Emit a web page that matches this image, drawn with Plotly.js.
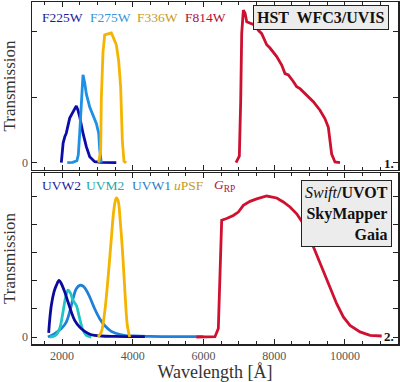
<!DOCTYPE html>
<html>
<head>
<meta charset="utf-8">
<script src="https://cdn.plot.ly/plotly-3.0.1.min.js"></script>
<style>html,body{margin:0;padding:0;background:#fff;}#chart{width:400px;height:382px;}</style>
</head>
<body>
<div id="chart"></div>
<script>
// ---- Panel 1: HST WFC3/UVIS ----
const f225wWl = [1979, 2030, 2080, 2120, 2216, 2310, 2403, 2450, 2499, 2592, 2686, 2782, 2923, 3100, 3300, 3534];
const f225wTr = [0.0, 0.03, 0.04, 0.045, 0.068, 0.078, 0.0866, 0.08, 0.070, 0.045, 0.0244, 0.009, 0.0015, 0.0005, 0.0002, 0.0];
const f275wWl = [2148, 2300, 2420, 2460, 2499, 2544, 2592, 2640, 2686, 2782, 2875, 2969, 3036, 3065, 3110];
const f275wTr = [0, 0.0005, 0.003, 0.012, 0.045, 0.098, 0.134, 0.122, 0.105, 0.085, 0.073, 0.060, 0.045, 0.020, 0];
const f336wWl = [3036, 3093, 3110, 3158, 3206, 3299, 3393, 3442, 3534, 3602, 3658, 3705, 3752, 3817];
const f336wTr = [0, 0.02, 0.098, 0.169, 0.195, 0.197, 0.198, 0.192, 0.18, 0.155, 0.114, 0.033, 0.002, 0];
const f814wWl = [6919, 7013, 7052, 7080, 7127, 7175, 7222, 7315, 7457, 7551, 7646, 7787, 7881, 8070, 8211, 8305, 8399, 8540, 8635, 8729, 8918, 9106, 9294, 9436, 9530, 9577, 9624, 9718, 9860];
const f814wTr = [0, 0.01, 0.095, 0.197, 0.233, 0.228, 0.215, 0.213, 0.210, 0.202, 0.197, 0.180, 0.175, 0.162, 0.149, 0.136, 0.134, 0.124, 0.116, 0.113, 0.103, 0.093, 0.080, 0.067, 0.054, 0.034, 0.013, 0.001, 0];

// ---- Panel 2: Swift/UVOT, SkyMapper, Gaia ----
const uvw2Wl = [1622, 1650, 1696, 1772, 1838, 1914, 1979, 2075, 2168, 2262, 2357, 2499, 2640, 2827, 3110, 3500, 4000, 4340];
const uvw2Tr = [0.015, 0.06, 0.112, 0.16, 0.183, 0.201, 0.189, 0.16, 0.124, 0.089, 0.059, 0.035, 0.02, 0.008, 0.0035, 0.002, 0.0015, 0.001];
const uvm2Wl = [1659, 1750, 1838, 1933, 2027, 2093, 2168, 2244, 2310, 2403, 2499, 2592, 2686, 2827];
const uvm2Tr = [0, 0.002, 0.008, 0.03, 0.089, 0.136, 0.166, 0.154, 0.13, 0.112, 0.065, 0.024, 0.006, 0];
const uvw1Wl = [1602, 1792, 1979, 2120, 2216, 2310, 2403, 2499, 2592, 2686, 2782, 2923, 3065, 3206, 3393, 3676, 4054, 4500, 5000, 5500, 6000];
const uvw1Tr = [0.0, 0.012, 0.03, 0.053, 0.089, 0.136, 0.171, 0.183, 0.181, 0.166, 0.142, 0.1, 0.065, 0.041, 0.02, 0.008, 0.0035, 0.002, 0.0015, 0.001, 0.001];
const upsfWl = [3016, 3110, 3206, 3299, 3393, 3469, 3534, 3582, 3647, 3723, 3789, 3846, 3912];
const upsfTr = [0, 0.018, 0.089, 0.207, 0.349, 0.455, 0.493, 0.485, 0.408, 0.278, 0.136, 0.041, 0];
const grpWl = [5800, 6100, 6325, 6419, 6467, 6495, 6514, 6655, 6843, 6985, 7127, 7315, 7504, 7787, 8070, 8257, 8446, 8635, 8823, 9012, 9200, 9389, 9577, 9766, 9954, 10143, 10426, 10709, 11039];
const grpTr = [0, 0, 0.001, 0.03, 0.23, 0.396, 0.414, 0.42, 0.431, 0.443, 0.467, 0.481, 0.49, 0.5, 0.493, 0.479, 0.461, 0.437, 0.402, 0.349, 0.29, 0.23, 0.171, 0.118, 0.071, 0.041, 0.018, 0.006, 0.0035];

const topNames = ['F225W', 'F275W', 'F336W', 'F814W'];
const botNames = ['UVW2', 'UVM2', 'UVW1', '<i>u</i>PSF', '<i>G</i><sub>RP</sub>'];
const xTickVals = [2000, 4000, 6000, 8000, 10000];
const xTickText = ['2000', '4000', '6000', '8000', '10000'];

const C = {
  f225: '#0c0ca8', f275: '#1e90e6', f336: '#f4b400', f814: '#cc1030',
  uvw2: '#0a0a9c', uvm2: '#22c4c4', uvw1: '#1f80d8', upsf: '#f4b400', grp: '#d01030'
};
const TXT = {
  f225: '#1c1c98', f275: '#3a94dc', f336: '#c89a1c', f814: '#b01038',
  uvw2: '#1c1c98', uvm2: '#22a8a8', uvw1: '#2c7cc8', upsf: '#c89a1c', grp: '#b01038'
};

function tr(x, y, color, xa, ya, shape) {
  return {x: x, y: y, type: 'scatter', mode: 'lines', xaxis: xa, yaxis: ya,
    line: {color: color, width: 2.8, shape: shape || 'linear'}, showlegend: false, hoverinfo: 'skip'};
}

const data = [
  tr(f225wWl, f225wTr, C.f225, 'x', 'y'),
  tr(f275wWl, f275wTr, C.f275, 'x', 'y'),
  tr(f336wWl, f336wTr, C.f336, 'x', 'y'),
  tr(f814wWl, f814wTr, C.f814, 'x', 'y'),
  tr(uvw1Wl, uvw1Tr, C.uvw1, 'x2', 'y2', 'spline'),
  tr(uvm2Wl, uvm2Tr, C.uvm2, 'x2', 'y2', 'spline'),
  tr(uvw2Wl, uvw2Tr, C.uvw2, 'x2', 'y2', 'spline'),
  tr(upsfWl, upsfTr, C.upsf, 'x2', 'y2', 'spline'),
  tr(grpWl, grpTr, C.grp, 'x2', 'y2')
];

const FONT = "'Liberation Serif', 'DejaVu Serif', serif";
const frame = {showline: true, linecolor: '#222', linewidth: 1.5, mirror: 'ticks',
  ticks: 'inside', ticklen: 5, tickcolor: '#222', tickwidth: 1, showgrid: false, zeroline: false};

const xCommon = Object.assign({}, frame, {range: [1150, 11500], tick0: 0, dtick: 2000,
  minor: {dtick: 500, tick0: 0, ticks: 'inside', ticklen: 3, tickcolor: '#222', showgrid: false}});

function yAxis(domain, range) {
  return Object.assign({}, frame, {domain: domain, range: range,
    tickvals: [0], ticktext: ['0'], tickfont: {family: FONT, size: 12, color: '#555'},
    minor: {dtick: 0.1, tick0: 0, ticks: 'inside', ticklen: 5, tickcolor: '#222', showgrid: false},
    title: {text: 'Transmission', font: {family: FONT, size: 17, color: '#333'}, standoff: 2}});
}

function ann(text, x, y, color, opts) {
  return Object.assign({text: text, x: x, y: y, xref: 'paper', yref: 'paper', showarrow: false,
    xanchor: 'left', yanchor: 'middle', font: {family: FONT, size: 13.5, color: color}}, opts || {});
}

const layout = {
  width: 400, height: 382,
  margin: {l: 32, r: 2, t: 2, b: 38},
  paper_bgcolor: '#fff', plot_bgcolor: '#fff',
  font: {family: FONT, color: '#444', size: 12},
  xaxis: Object.assign({}, xCommon, {anchor: 'y', domain: [0, 1], showticklabels: false}),
  xaxis2: Object.assign({}, xCommon, {anchor: 'y2', domain: [0, 1], matches: 'x',
    tickvals: xTickVals, ticktext: xTickText,
    tickfont: {family: FONT, size: 12, color: '#555'},
    title: {text: 'Wavelength [Å]', font: {family: FONT, size: 18, color: '#333'}, standoff: 3}}),
  yaxis: Object.assign(yAxis([0.5088, 1], [-0.0112, 0.2453]), {anchor: 'x'}),
  yaxis2: Object.assign(yAxis([0, 0.5], [-0.0248, 0.5816]), {anchor: 'x2'}),
  annotations: [
    ann(topNames[0], 0.0219, 0.956, TXT.f225),
    ann(topNames[1], 0.153, 0.956, TXT.f275),
    ann(topNames[2], 0.281, 0.956, TXT.f336),
    ann(topNames[3], 0.4126, 0.956, TXT.f814),
    ann(botNames[0], 0.0219, 0.462, TXT.uvw2),
    ann(botNames[1], 0.142, 0.462, TXT.uvm2),
    ann(botNames[2], 0.268, 0.462, TXT.uvw1),
    ann(botNames[3], 0.3825, 0.462, TXT.upsf),
    ann(botNames[4], 0.4918, 0.462, TXT.grp),
    ann('<b>HST  WFC3/UVIS</b>', 0.7896, 0.956, '#111',
      {xanchor: 'center', bgcolor: '#ececec', bordercolor: '#222', borderwidth: 1, borderpad: 3,
       font: {family: FONT, size: 16, color: '#111'}}),
    ann('<i>Swift</i><b>/UVOT</b><br><b>SkyMapper</b><br><b>Gaia</b>', 0.9836, 0.4795, '#111',
      {xanchor: 'right', yanchor: 'top', align: 'right', bgcolor: '#ececec', bordercolor: '#222', borderwidth: 1, borderpad: 3,
       font: {family: FONT, size: 16, color: '#111'}}),
    ann('<b>1.</b>', 0.9945, 0.529, '#111', {xanchor: 'right', font: {family: FONT, size: 13, color: '#111'}}),
    ann('<b>2.</b>', 0.9945, 0.0205, '#111', {xanchor: 'right', font: {family: FONT, size: 13, color: '#111'}})
  ]
};

Plotly.newPlot('chart', data, layout, {displayModeBar: false, staticPlot: true});
</script>
</body>
</html>
